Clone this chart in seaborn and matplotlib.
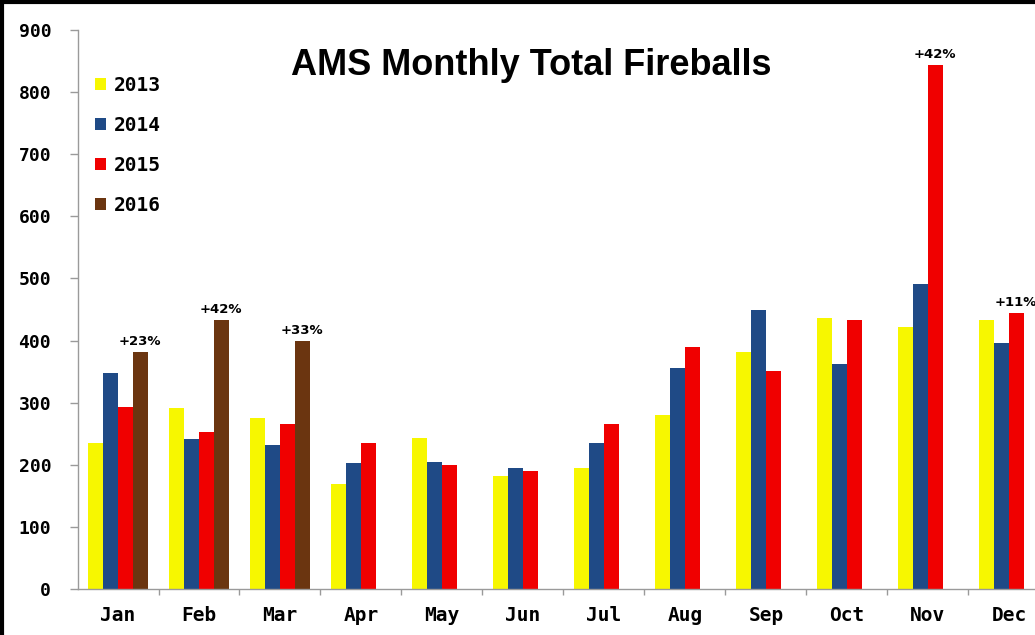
import numpy as np
import pandas as pd
import seaborn as sns
import matplotlib.pyplot as plt
from matplotlib.lines import Line2D

# values
months = ["Jan", "Feb", "Mar", "Apr", "May", "Jun", "Jul", "Aug", "Sep", "Oct", "Nov", "Dec"]
years = ["2013", "2014", "2015", "2016"]
y2013 = [235, 291, 275, 169, 243, 182, 195, 280, 381, 436, 422, 433]
y2014 = [348, 241, 232, 203, 204, 195, 235, 356, 450, 362, 491, 396]
y2015 = [293, 253, 266, 235, 200, 190, 266, 390, 351, 433, 844, 444]
y2016 = [381, 433, 399]
labels_2015 = ["", "", "", "", "", "", "", "", "", "", "+42%", "+11%"]
labels_2016 = ["+23%", "+42%", "+33%"]
colors = ["#F7F700", "#1F4A86", "#F00000", "#6B3510"]

# long form table for seaborn
rows = []
for yr, vals in zip(years, [y2013, y2014, y2015, y2016]):
    for m, v in zip(months, vals):
        rows.append({"month": m, "year": yr, "count": v})
df = pd.DataFrame(rows)

sns.set_style("white")
plt.rcParams["text.color"] = "black"
plt.rcParams["xtick.color"] = "black"
plt.rcParams["ytick.color"] = "black"
mono = ["DejaVu Sans Mono"]

fig = plt.figure(figsize=(10.35, 6.35), dpi=100)
ax = fig.add_axes([0.0749, 0.0724, 0.939, 0.8803])

sns.barplot(data=df, x="month", y="count", hue="year", order=months, hue_order=years,
            palette=colors, saturation=1, width=0.73, dodge=True, errorbar=None,
            linewidth=0, ax=ax)

# percentage notes above the bars
ax.bar_label(ax.containers[2], labels=labels_2015, padding=3, fontsize=9.5, fontweight="bold")
ax.bar_label(ax.containers[3], labels=labels_2016, padding=3, fontsize=9.5, fontweight="bold")

ax.set_xlim(-0.5, 11.5)
ax.set_ylim(0, 900)
ax.set_yticks(np.arange(0, 901, 100))
ax.set_xlabel("")
ax.set_ylabel("")

for s in ["top", "right"]:
    ax.spines[s].set_visible(False)
for s in ["left", "bottom"]:
    ax.spines[s].set_color("#9a9a9a")
    ax.spines[s].set_linewidth(1.0)

ax.tick_params(axis="y", direction="out", length=6, width=1, color="#9a9a9a", left=True, pad=13)
ax.tick_params(axis="x", which="major", length=0, pad=12)
ax.set_xticks(np.arange(0.5, 11.5, 1), minor=True)
ax.tick_params(axis="x", which="minor", direction="out", length=4, width=1, color="#9a9a9a", bottom=True)

for lab in ax.get_yticklabels():
    lab.set_fontfamily(mono)
    lab.set_fontweight("bold")
    lab.set_fontsize(13)
for lab in ax.get_xticklabels():
    lab.set_fontfamily(mono)
    lab.set_fontweight("bold")
    lab.set_fontsize(14)

# title inside the plot
ax.text(0.4666, 0.937, "AMS Monthly Total Fireballs", transform=ax.transAxes,
        ha="center", va="center", fontsize=26, fontweight="bold", family="Liberation Sans")

# legend
handles, labs = ax.get_legend_handles_labels()
leg = ax.legend(handles, labs, loc="upper left", bbox_to_anchor=(0.018, 0.918), frameon=False,
                handlelength=0.58, handleheight=0.58, handletextpad=0.4, labelspacing=1.08,
                borderpad=0, borderaxespad=0,
                prop={"family": mono, "weight": "bold", "size": 14})

# screenshot border on the left and top
fig.add_artist(Line2D([0.002, 0.002], [0, 1], color="black", lw=3, transform=fig.transFigure))
fig.add_artist(Line2D([0, 1], [0.997, 0.997], color="black", lw=3, transform=fig.transFigure))

fig.savefig("out.png", dpi=100)
